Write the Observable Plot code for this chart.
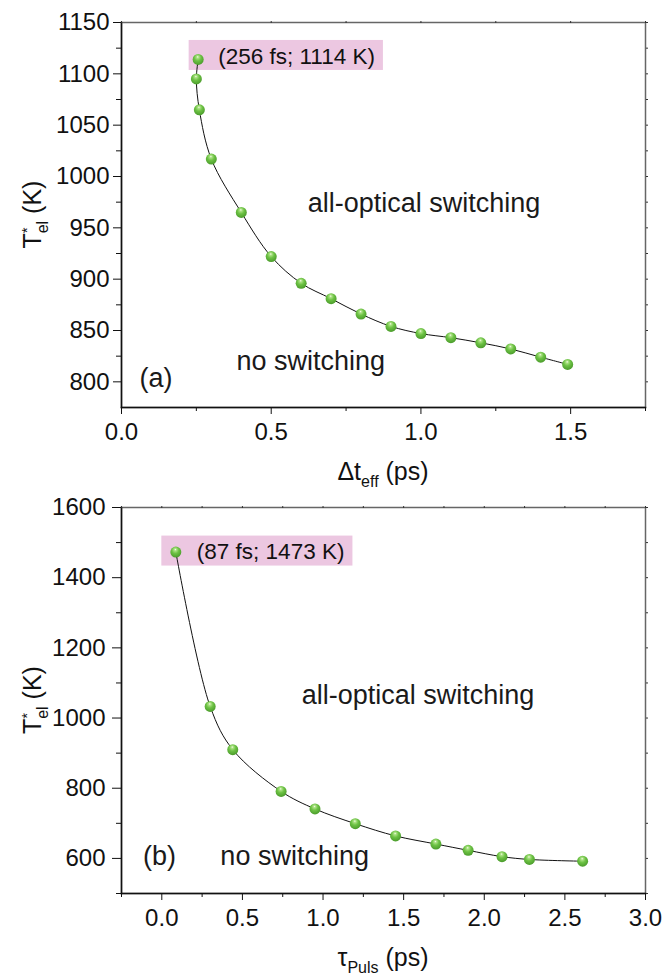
<!DOCTYPE html>
<html>
<head>
<meta charset="utf-8">
<script src="https://cdn.jsdelivr.net/npm/d3@7"></script>
<script src="https://cdn.jsdelivr.net/npm/@observablehq/plot@0.6"></script>
<style>
  html, body { margin: 0; padding: 0; background: #fff; }
  #chart > div, #chart svg { display: block; }
</style>
</head>
<body>
<div id="chart"></div>
<script>
// ---------- Panel (a) data ----------
const topDt   = [0.256, 0.25, 0.26, 0.30, 0.40, 0.50, 0.60, 0.70, 0.80, 0.90, 1.00, 1.10, 1.20, 1.30, 1.40, 1.49];
const topTel  = [1114, 1095, 1065, 1017, 965, 922, 896, 881, 866, 854, 847, 843, 838, 832, 824, 817];
const topXTicks = [0.0, 0.5, 1.0, 1.5];
const topXMinor = [0.25, 0.75, 1.25, 1.75];
const topYTicks = [800, 850, 900, 950, 1000, 1050, 1100, 1150];
const topYMinor = [825, 875, 925, 975, 1025, 1075, 1125];
const topCallout = "(256 fs; 1114 K)";
const topRegions = ["all-optical switching", "no switching"];
const topRegionX = [1.01, 0.632];
const topRegionY = [965, 812];
const topTag = "(a)";
const topTagX = 0.06;
const topTagY = 795;

// ---------- Panel (b) data ----------
const botTau  = [0.087, 0.30, 0.44, 0.74, 0.95, 1.20, 1.45, 1.70, 1.90, 2.11, 2.28, 2.61];
const botTel  = [1473, 1033, 910, 791, 741, 699, 664, 641, 623, 605, 597, 592];
const botXTicks = [0.0, 0.5, 1.0, 1.5, 2.0, 2.5, 3.0];
const botXMinor = [-0.25, 0.25, 0.75, 1.25, 1.75, 2.25, 2.75];
const botYTicks = [600, 800, 1000, 1200, 1400, 1600];
const botYMinor = [500, 700, 900, 1100, 1300, 1500];
const botCallout = "(87 fs; 1473 K)";
const botRegions = ["all-optical switching", "no switching"];
const botRegionX = [1.589, 0.824];
const botRegionY = [1040, 581];
const botTag = "(b)";
const botTagX = -0.117;
const botTagY = 581;

const FONT = "'Liberation Sans', Arial, Helvetica, sans-serif";
const INK = "#111";

function panel(cfg) {
  const pts = cfg.xs.map((x, i) => ({x, y: cfg.ys[i]}));
  const regions = cfg.regions.map((t, i) => ({t, x: cfg.regionX[i], y: cfg.regionY[i]}));
  const svg = Plot.plot({
    width: 664,
    height: cfg.height,
    marginTop: cfg.mt, marginLeft: 121, marginRight: 19, marginBottom: cfg.mb,
    x: {domain: cfg.xDomain},
    y: {domain: cfg.yDomain},
    style: {fontFamily: FONT, fontSize: "24px", color: INK, background: "#fff", overflow: "visible"},
    marks: [
      Plot.frame({stroke: "#666", strokeWidth: 1.5}),
      Plot.frame({anchor: "left", stroke: INK, strokeWidth: 1.5}),
      Plot.frame({anchor: "bottom", stroke: INK, strokeWidth: 1.5}),
      Plot.axisX(cfg.xTicks, {tickSize: 7, tickPadding: 8, tickFormat: d3.format(".1f"), label: null, fontSize: 24, stroke: INK, fill: INK}),
      Plot.axisX(cfg.xMinor, {tickSize: 4, tickFormat: () => "", label: null, stroke: INK}),
      Plot.axisX(cfg.xTicks.concat(cfg.xMinor), {anchor: "top", tickSize: 2, tickFormat: () => "", label: null, stroke: "#333"}),
      Plot.axisY(cfg.yTicks, {tickSize: cfg.ytick, tickPadding: cfg.ypad, tickFormat: d3.format("d"), label: null, fontSize: 24, stroke: INK, fill: INK}),
      Plot.axisY(cfg.yMinor, {tickSize: 5, tickFormat: () => "", label: null, stroke: INK}),
      Plot.axisY(cfg.yTicks.concat(cfg.yMinor), {anchor: "right", tickSize: 2, tickFormat: () => "", label: null, stroke: "#333"}),
      Plot.line(pts, {x: "x", y: "y", curve: "catmull-rom", stroke: INK, strokeWidth: 1}),
      Plot.dot(pts, {x: "x", y: "y", r: 5.5, fill: "url(#sphere)", stroke: "none"}),
      Plot.text([pts[0]], {x: "x", y: "y", text: () => cfg.callout, dx: cfg.calloutDx, dy: cfg.calloutDy, textAnchor: "start", fontSize: 22.5, fill: INK}),
      Plot.text(regions, {x: "x", y: "y", text: "t", textAnchor: "middle", lineAnchor: "bottom", fontSize: 27, fill: "#1a1a1a"}),
      Plot.text([cfg.tag], {x: () => cfg.tagX, y: () => cfg.tagY, text: d => d, textAnchor: "start", lineAnchor: "bottom", fontSize: 27, fill: "#1a1a1a"})
    ]
  });
  svg.__pts = pts;
  return svg;
}

function decorate(svg, cfg) {
  const s = d3.select(svg);
  const defs = s.insert("defs", ":first-child");
  const g = defs.append("radialGradient").attr("id", "sphere")
    .attr("cx", 0.45).attr("cy", 0.38).attr("r", 0.62).attr("fx", 0.46).attr("fy", 0.26);
  [[0, "#f6fcee"], [0.16, "#aee387"], [0.5, "#6dc244"], [1, "#4b9c2c"]].forEach(([o, c]) =>
    g.append("stop").attr("offset", o).attr("stop-color", c));

  // pink callout box behind the first point and its label
  const txt = s.selectAll("text").filter(function () { return this.textContent === cfg.callout; }).node();
  const p0 = svg.__pts[0];
  const cx = svg.scale("x").apply(p0.x), cy = svg.scale("y").apply(p0.y);
  let x1 = cx + 190;
  if (txt) {
    const sr = svg.getBoundingClientRect(), tr = txt.getBoundingClientRect();
    if (tr.width > 0) x1 = tr.right - sr.left + 8;
  }
  const x0 = cx - cfg.boxPadL;
  const yc = cy + cfg.calloutDy - 1;
  const box = document.createElementNS("http://www.w3.org/2000/svg", "rect");
  box.setAttribute("x", x0); box.setAttribute("y", yc - 15);
  box.setAttribute("width", Math.max(0, x1 - x0)); box.setAttribute("height", 30);
  box.setAttribute("fill", "#ecc7e1");
  const lineGroup = svg.querySelector('g[aria-label="line"]');
  if (lineGroup) svg.insertBefore(box, lineGroup); else svg.insertBefore(box, svg.querySelector("g"));

  const W = 664, plotW = W - 121 - 19;
  const xc = 121 + plotW / 2;
  const plotH = cfg.height - cfg.mt - cfg.mb;
  // x axis title
  const t = s.append("text").attr("x", xc).attr("y", cfg.height - 10)
    .attr("text-anchor", "middle").attr("font-family", FONT).attr("font-size", 25).attr("fill", INK);
  t.append("tspan").text(cfg.xTitle[0]);
  t.append("tspan").attr("font-size", 16).attr("dy", 7).text(cfg.xTitle[1]);
  t.append("tspan").attr("dy", -7).text(cfg.xTitle[2]);
  // y axis title
  const yt = s.append("text").attr("transform", `translate(41,${cfg.mt + plotH / 2}) rotate(-90)`)
    .attr("text-anchor", "middle").attr("font-family", FONT).attr("font-size", 25).attr("fill", INK);
  yt.append("tspan").text("T");
  yt.append("tspan").attr("font-size", 15).attr("dy", -9).text("*");
  yt.append("tspan").attr("font-size", 16).attr("dx", -6).attr("dy", 16).text("el");
  yt.append("tspan").attr("dy", -7).text(" (K)");
}

const cfgTop = {
  xs: topDt, ys: topTel, xTicks: topXTicks, xMinor: topXMinor, yTicks: topYTicks, yMinor: topYMinor,
  xDomain: [0, 1.75], yDomain: [775, 1150], height: 490, mt: 22, mb: 83, ytick: 8, ypad: 4,
  callout: topCallout, calloutDx: 20, calloutDy: -3, boxPadL: 9,
  regions: topRegions, regionX: topRegionX, regionY: topRegionY,
  tag: topTag, tagX: topTagX, tagY: topTagY,
  xTitle: ["\u0394t", "eff", " (ps)"]
};
const cfgBot = {
  xs: botTau, ys: botTel, xTicks: botXTicks, xMinor: botXMinor, yTicks: botYTicks, yMinor: botYMinor,
  xDomain: [-0.25, 3.0], yDomain: [500, 1600], height: 486, mt: 17, mb: 83, ytick: 9, ypad: 7,
  callout: botCallout, calloutDx: 21, calloutDy: 0, boxPadL: 14,
  regions: botRegions, regionX: botRegionX, regionY: botRegionY,
  tag: botTag, tagX: botTagX, tagY: botTagY,
  xTitle: ["\u03C4", "Puls", " (ps)"]
};

const root = document.getElementById("chart");
[cfgTop, cfgBot].forEach(cfg => {
  const svg = panel(cfg);
  root.appendChild(svg);
  decorate(svg, cfg);
});
</script>
</body>
</html>
